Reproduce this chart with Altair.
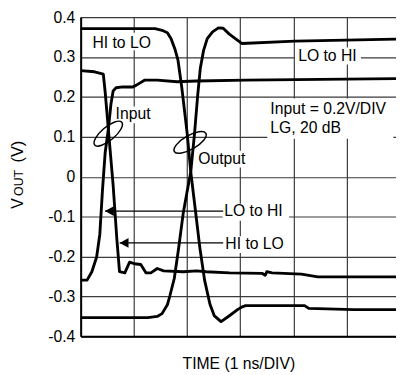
import altair as alt
import pandas as pd

# ---------------- data (time in ns, output in volts) ----------------
out_hl_t = [0, 1.40, 1.53, 1.63, 1.70, 1.77, 1.83, 1.90, 2.00, 2.07, 2.16, 2.24, 2.33, 2.43,
            2.51, 2.64, 2.79, 2.95, 3.04, 3.10, 4.21, 4.29, 5.14, 5.93]
out_hl_v = [0.371, 0.371, 0.367, 0.361, 0.346, 0.321, 0.292, 0.225, 0.112, 0.012, -0.087,
            -0.177, -0.259, -0.319, -0.348, -0.363, -0.349, -0.333, -0.326, -0.323, -0.323,
            -0.330, -0.333, -0.333]

out_lh_t = [0, 1.26, 1.44, 1.53, 1.63, 1.68, 1.76, 1.84, 1.93, 2.00, 2.07, 2.14, 2.20, 2.25,
            2.31, 2.38, 2.48, 2.59, 2.68, 2.79, 2.92, 3.03, 4.03, 5.93]
out_lh_v = [-0.353, -0.353, -0.350, -0.343, -0.321, -0.297, -0.255, -0.181, -0.090, -0.038,
            0.012, 0.107, 0.203, 0.272, 0.316, 0.346, 0.363, 0.373, 0.372, 0.358, 0.345,
            0.334, 0.340, 0.345]

in_hl_t = [0, 0.26, 0.425, 0.46, 0.52, 0.61, 0.68, 0.73, 0.83, 0.92, 1.01, 1.13, 1.23, 1.32,
           1.44, 1.56, 1.93, 2.18, 2.36, 2.80, 3.41, 3.47, 3.50, 3.60, 4.15, 4.46, 5.93]
in_hl_v = [0.266, 0.263, 0.257, 0.213, 0.119, -0.021, -0.156, -0.238, -0.241, -0.214, -0.218,
           -0.220, -0.241, -0.241, -0.230, -0.236, -0.238, -0.236, -0.238, -0.241, -0.242,
           -0.247, -0.238, -0.241, -0.244, -0.251, -0.251]

in_lh_t = [0, 0.12, 0.21, 0.30, 0.36, 0.41, 0.46, 0.52, 0.57, 0.61, 0.665, 0.79, 0.98, 1.04,
           1.20, 1.44, 1.81, 2.18, 3.10, 5.93]
in_lh_v = [-0.259, -0.259, -0.238, -0.201, -0.144, -0.033, 0.060, 0.119, 0.183, 0.215, 0.223,
           0.225, 0.225, 0.229, 0.242, 0.242, 0.238, 0.240, 0.242, 0.246]

# annotation text
label_text = ["HI to LO", "LO to HI", "Input", "Output", "Input = 0.2V/DIV", "LG, 20 dB",
              "LO to HI", "HI to LO"]
label_t = [0.22, 4.09, 0.656, 2.21, 3.567, 3.567, 2.70, 2.72]
label_v = [0.336, 0.303, 0.156, 0.045, 0.170, 0.121, -0.087, -0.169]

# white boxes behind the labels
box_t = [0.19, 4.03, 0.61, 2.17, 3.51, 2.67, 2.69]
box_t2 = [1.40, 5.27, 1.39, 3.16, 5.88, 3.92, 3.98]
box_v = [0.361, 0.324, 0.176, 0.065, 0.196, -0.068, -0.149]
box_v2 = [0.317, 0.281, 0.134, 0.023, 0.095, -0.110, -0.191]

# arrows (tip positions and leader end)
arrow_t = [0.457, 0.733]
arrow_end = [2.68, 2.68]
arrow_v = [-0.086, -0.166]

# ellipses around crossing points
ell_t = [0.518, 2.058]
ell_v = [0.108, 0.086]
ell_size = [1296, 1369]
ell_angle = [320, 330]

y_ticks = [-0.4, -0.3, -0.2, -0.1, 0, 0.1, 0.2, 0.3, 0.4]
x_ticks = [0, 1, 2, 3, 4, 5]

FONT = "Liberation Sans"

# ---------------- frames ----------------
rows = []
for name, ts, vs in [("out_hl", out_hl_t, out_hl_v), ("out_lh", out_lh_t, out_lh_v),
                     ("in_hl", in_hl_t, in_hl_v), ("in_lh", in_lh_t, in_lh_v)]:
    for t, v in zip(ts, vs):
        rows.append({"series": name, "t": t, "v": v})
curves = pd.DataFrame(rows)
labels = pd.DataFrame({"label": label_text, "t": label_t, "v": label_v})
boxes = pd.DataFrame({"t": box_t, "t2": box_t2, "v": box_v, "v2": box_v2})
arrows = pd.DataFrame({"t": arrow_t, "t2": arrow_end, "v": arrow_v})
ells = pd.DataFrame({"t": ell_t, "v": ell_v, "s": ell_size, "a": ell_angle})

x_enc = alt.X("t:Q", scale=alt.Scale(domain=[0, 5.93], nice=False, zero=False),
              axis=alt.Axis(values=x_ticks, labels=False, ticks=False, grid=True,
                            title="TIME (1 ns/DIV)", titlePadding=20))
y_enc = alt.Y("v:Q", scale=alt.Scale(domain=[-0.4, 0.4], nice=False, zero=False),
              axis=alt.Axis(values=y_ticks, ticks=False, grid=True, labelPadding=6,
                            labelExpr="'' + datum.value", title=None))

box_layer = alt.Chart(boxes).mark_rect(color="white").encode(
    x=x_enc, x2="t2:Q", y=y_enc, y2="v2:Q")

curve_layer = alt.Chart(curves).mark_line(color="black", strokeWidth=2.9,
                                          strokeJoin="round").encode(
    x=x_enc, y=y_enc, detail="series:N")

leader_layer = alt.Chart(arrows).mark_rule(color="black", strokeWidth=1.3).encode(
    x=x_enc, x2="t2:Q", y=y_enc)

head_layer = alt.Chart(arrows).mark_point(
    shape="M0,0L2,-1.1L2,1.1Z", filled=True, color="black", opacity=1, size=81
).encode(x=x_enc, y=y_enc)

ELL = ("M1,0 C1,0.21 0.552,0.38 0,0.38 C-0.552,0.38 -1,0.21 -1,0 "
       "C-1,-0.21 -0.552,-0.38 0,-0.38 C0.552,-0.38 1,-0.21 1,0 Z")
ell_layer = alt.Chart(ells).mark_point(
    shape=ELL, filled=False, color="black", strokeWidth=1.5, opacity=1
).encode(x=x_enc, y=y_enc, size=alt.Size("s:Q", scale=None),
         angle=alt.Angle("a:Q", scale=None))

text_layer = alt.Chart(labels).mark_text(
    align="left", baseline="middle", font=FONT, fontSize=16, color="black"
).encode(x=x_enc, y=y_enc, text="label:N")

# y-axis title "VOUT (V)" with small OUT
ytitle_parts = ["V", "OUT", "(V)"]
ytitle_sizes = [16, 12.5, 16.5]
ytitle_pos = [195, 182, 148]
ytitle_layers = [
    alt.Chart(pd.DataFrame({"s": [p]})).mark_text(
        angle=270, align="left", baseline="alphabetic", font=FONT, fontSize=fs, color="black"
    ).encode(text="s:N", x=alt.value(-59), y=alt.value(py))
    for p, fs, py in zip(ytitle_parts, ytitle_sizes, ytitle_pos)
]

chart = alt.layer(box_layer, curve_layer, leader_layer, head_layer, ell_layer, text_layer,
                  *ytitle_layers).properties(
    width=321, height=325,
    autosize=alt.AutoSizeParams(type="none"),
    padding={"left": 74, "top": 6, "right": 0, "bottom": 33},
    background="white",
).configure_view(strokeWidth=0).configure_axis(
    gridColor="#3a3a3a", gridWidth=1.2, gridOpacity=1,
    domainColor="black", domainWidth=2,
    labelFont=FONT, labelFontSize=16, labelColor="black",
    titleFont=FONT, titleFontSize=16, titleFontWeight="normal", titleColor="black",
)

chart.save("out.html", embed_options={"renderer": "svg", "actions": False})
